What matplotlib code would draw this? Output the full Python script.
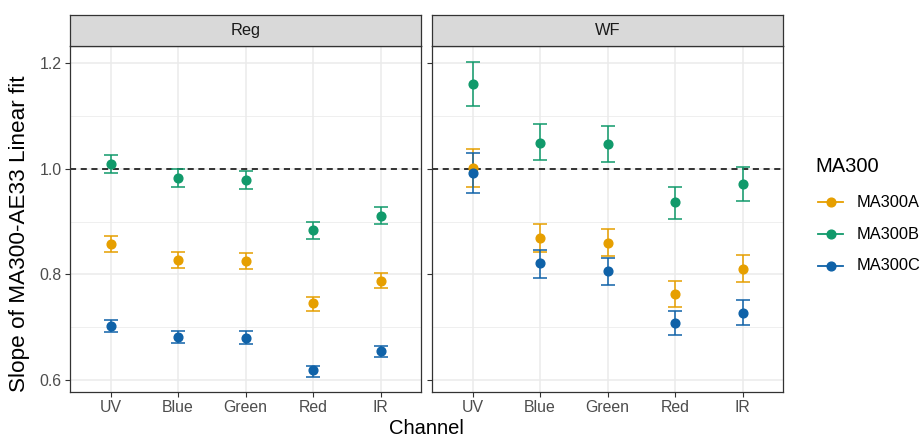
import matplotlib
matplotlib.use("Agg")
import matplotlib.pyplot as plt
import numpy as np

plt.rcParams['font.family'] = ['Liberation Sans', 'DejaVu Sans']

channels = ["UV", "Blue", "Green", "Red", "IR"]
panels = ["Reg", "WF"]
series = ["MA300A", "MA300B", "MA300C"]
colors = {"MA300A": "#E69F00", "MA300B": "#119A6B", "MA300C": "#0F62A8"}

# Reg panel
reg_A = [0.857, 0.827, 0.826, 0.745, 0.788]
reg_A_lo = [0.842, 0.813, 0.811, 0.731, 0.775]
reg_A_hi = [0.872, 0.842, 0.840, 0.758, 0.802]
reg_B = [1.009, 0.983, 0.979, 0.884, 0.911]
reg_B_lo = [0.992, 0.966, 0.962, 0.868, 0.895]
reg_B_hi = [1.026, 1.000, 0.996, 0.899, 0.927]
reg_C = [0.702, 0.681, 0.680, 0.618, 0.654]
reg_C_lo = [0.690, 0.669, 0.668, 0.606, 0.643]
reg_C_hi = [0.714, 0.692, 0.692, 0.627, 0.665]

# WF panel
wf_A = [1.002, 0.869, 0.860, 0.762, 0.811]
wf_A_lo = [0.965, 0.843, 0.834, 0.739, 0.785]
wf_A_hi = [1.038, 0.896, 0.886, 0.787, 0.836]
wf_B = [1.161, 1.050, 1.048, 0.937, 0.972]
wf_B_lo = [1.120, 1.016, 1.013, 0.905, 0.939]
wf_B_hi = [1.203, 1.086, 1.082, 0.966, 1.003]
wf_C = [0.993, 0.821, 0.806, 0.708, 0.727]
wf_C_lo = [0.955, 0.793, 0.779, 0.685, 0.704]
wf_C_hi = [1.030, 0.847, 0.832, 0.730, 0.751]

data = {
    "Reg": {"MA300A": (reg_A, reg_A_lo, reg_A_hi),
            "MA300B": (reg_B, reg_B_lo, reg_B_hi),
            "MA300C": (reg_C, reg_C_lo, reg_C_hi)},
    "WF": {"MA300A": (wf_A, wf_A_lo, wf_A_hi),
           "MA300B": (wf_B, wf_B_lo, wf_B_hi),
           "MA300C": (wf_C, wf_C_lo, wf_C_hi)},
}

W, H = 921, 437
fig = plt.figure(figsize=(W / 100, H / 100), dpi=100)

def fx(px):
    return px / W

def fy(py):
    return 1 - py / H

panel_x = [(70, 421), (432, 783)]
ptop, pbot = 46, 392
stop = 15

for i, p in enumerate(panels):
    x0, x1 = panel_x[i]
    ax = fig.add_axes([fx(x0), fy(pbot), fx(x1 - x0), (pbot - ptop) / H])
    ax.set_xlim(-0.6, 4.6)
    ax.set_ylim(0.577, 1.233)
    ax.set_yticks([0.6, 0.8, 1.0, 1.2])
    ax.set_yticks([0.7, 0.9, 1.1], minor=True)
    ax.set_xticks(range(len(channels)))
    ax.set_xticklabels(channels)
    ax.grid(True, which='major', color='#EBEBEB', lw=1.1, zorder=0)
    ax.grid(True, which='minor', axis='y', color='#EBEBEB', lw=0.55, zorder=0)
    ax.set_axisbelow(True)
    for s in ax.spines.values():
        s.set_color('#333333')
        s.set_linewidth(0.9)
    ax.tick_params(which='minor', length=0)
    ax.tick_params(which='major', length=3.5, width=0.8, color='#333333',
                   labelsize=11.4, labelcolor='#4D4D4D', pad=2.5)
    if i == 1:
        ax.tick_params(axis='y', labelleft=False)
    ax.axhline(1.0, color='black', ls=(0, (4, 3)), lw=1.1, zorder=1)
    xs = np.arange(len(channels))
    for s in series:
        v, lo, hi = data[p][s]
        v = np.array(v); lo = np.array(lo); hi = np.array(hi)
        ax.errorbar(xs, v, yerr=[v - lo, hi - v], fmt='o', color=colors[s],
                    ms=6.3, elinewidth=1.1, capsize=5, capthick=1.1, zorder=3)
    # strip
    sax = fig.add_axes([fx(x0), fy(ptop), fx(x1 - x0), (ptop - stop) / H])
    sax.set_facecolor('#D9D9D9')
    sax.set_xticks([]); sax.set_yticks([])
    for sp in sax.spines.values():
        sp.set_color('#333333'); sp.set_linewidth(0.9)
    sax.text(0.5, 0.5, p, ha='center', va='center', fontsize=11.8,
             color='#1A1A1A', transform=sax.transAxes)

fig.text(fx((70 + 783) / 2), fy(428), "Channel", ha='center', va='center',
         fontsize=14.5, color='black')
fig.text(fx(20), fy(234), "Slope of MA300-AE33 Linear fit",
         rotation=90, ha='center', va='center', fontsize=16.2, color='black')

# legend
fig.text(fx(815), fy(167), "MA300", ha='left', va='center', fontsize=14.5)
for j, s in enumerate(series):
    yy = 202 + 32 * j
    fig.add_artist(plt.Line2D([fx(818), fx(843)], [fy(yy), fy(yy)],
                              color=colors[s], lw=1.3, transform=fig.transFigure))
    fig.add_artist(plt.Line2D([fx(830.5)], [fy(yy)], marker='o', ms=6.3,
                              color=colors[s], transform=fig.transFigure))
    fig.text(fx(857), fy(yy), s, ha='left', va='center', fontsize=11.8)

fig.savefig("out.png", dpi=100)
